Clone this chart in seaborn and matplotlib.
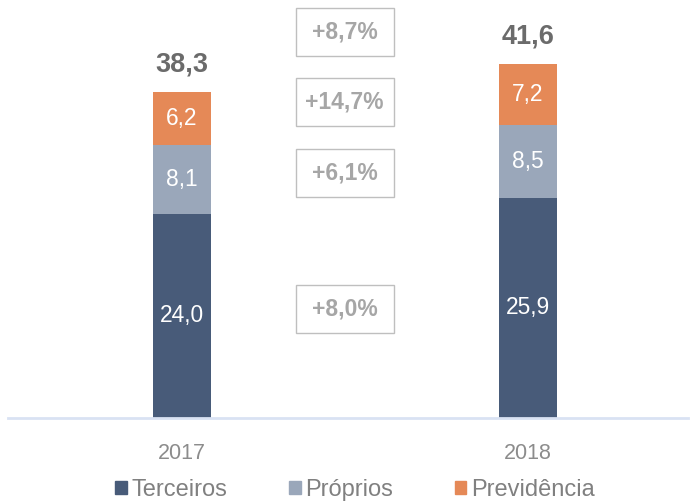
import matplotlib
matplotlib.use("Agg")
import matplotlib.pyplot as plt
import seaborn as sns
import pandas as pd
from matplotlib.patches import Patch, Rectangle

years = ["2017", "2018"]
terceiros = [24.0, 25.9]
proprios = [8.1, 8.5]
previdencia = [6.2, 7.2]
totals = [38.3, 41.6]
growth = ["+8,0%", "+6,1%", "+14,7%", "+8,7%"]
series = ["Terceiros", "Próprios", "Previdência"]
colors = ["#485b79", "#9aa7ba", "#e58957"]

sns.set_theme(style="white")
plt.rcParams["font.family"] = ["Liberation Sans", "DejaVu Sans"]

df = pd.DataFrame({"ano": years, "Terceiros": terceiros,
                   "Próprios": proprios, "Previdência": previdencia})
df["c1"] = df["Terceiros"]
df["c2"] = df["c1"] + df["Próprios"]
df["c3"] = df["c2"] + df["Previdência"]

fig = plt.figure(figsize=(6.96, 5.03), dpi=100)
ax = fig.add_axes([8 / 696, 85 / 503, 680 / 696, 418 / 503])

width = 58 / 346
for col, c in zip(["c3", "c2", "c1"], colors[::-1]):
    sns.barplot(data=df, x="ano", y=col, color=c, width=width,
                saturation=1, ax=ax, edgecolor="none")

ax.set_xlim(-0.503, 1.462)
ax.set_ylim(0, 49.1)

# rótulos dos segmentos e totais
for i in range(len(years)):
    lows = [0, df["c1"][i], df["c2"][i]]
    vals = [terceiros[i], proprios[i], previdencia[i]]
    for lo, v in zip(lows, vals):
        ax.text(i, lo + v / 2, f"{v:.1f}".replace(".", ","), ha="center",
                va="center", color="white", fontsize=16.4)
    ax.annotate(f"{totals[i]:.1f}".replace(".", ","), (i, df["c3"][i]),
                xytext=(0, 20), textcoords="offset points", ha="center",
                va="center", fontsize=19.5, fontweight="bold", color="#6b6b6b")

# caixas de crescimento
mids = [(df["c1"] / 2).mean() + 0.3, ((df["c1"] + df["c2"]) / 2).mean() - 0.3,
        ((df["c2"] + df["c3"]) / 2).mean() + 0.5, 45.3]
bx = 0.47
bw, bh = 98 / 346, 48 / 8.51
for g, y in zip(growth, mids):
    ax.add_patch(Rectangle((bx - bw / 2, y - bh / 2), bw, bh, fill=False,
                           edgecolor="#bfbfbf", linewidth=1.0))
    ax.text(bx, y, g, ha="center", va="center", fontsize=16.5,
            fontweight="bold", color="#a6a6a6")

sns.despine(ax=ax, left=True, top=True, right=True)
ax.spines["bottom"].set_color("#d9e2f3")
ax.spines["bottom"].set_linewidth(2)
ax.set_yticks([])
ax.set_xlabel("")
ax.set_ylabel("")
ax.tick_params(axis="x", length=0, pad=18, labelsize=15.5, labelcolor="#8c8c8c")

handles = [Patch(color=c, label=s) for c, s in zip(colors, series)]
fig.legend(handles=handles, loc="center", bbox_to_anchor=(355 / 696, 13 / 503),
           ncol=3, frameon=False, fontsize=17, handlelength=0.5,
           handleheight=0.5, handletextpad=0.2, columnspacing=2.6,
           labelcolor="#808080")

fig.savefig("out.png", dpi=100)
